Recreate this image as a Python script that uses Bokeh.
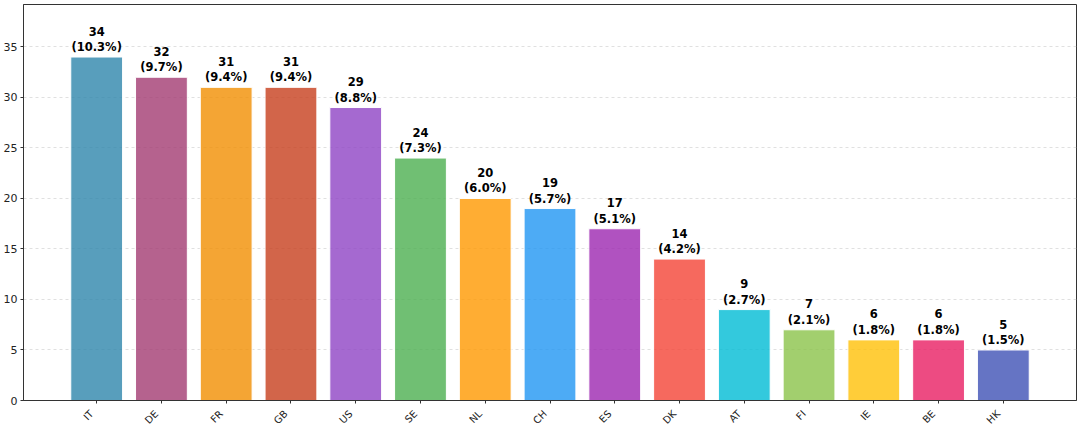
import math
from bokeh.plotting import figure
from bokeh.layouts import column
from bokeh.models import ColumnDataSource, FixedTicker, Range1d, CustomJSTickFormatter
from bokeh.core.properties import value
from bokeh.embed import file_html
from bokeh.resources import INLINE

countries = ["IT", "DE", "FR", "GB", "US", "SE", "NL", "CH", "ES", "DK", "AT", "FI", "IE", "BE", "HK"]
counts = [34, 32, 31, 31, 29, 24, 20, 19, 17, 14, 9, 7, 6, 6, 5]
percents = [10.3, 9.7, 9.4, 9.4, 8.8, 7.3, 6.0, 5.7, 5.1, 4.2, 2.7, 2.1, 1.8, 1.8, 1.5]
colors = ["#2E86AB", "#A23B72", "#F18F01", "#C73E1D", "#8E44C4", "#4CAF50", "#FF9800",
          "#2196F3", "#9C27B0", "#F44336", "#00BCD4", "#8BC34A", "#FFC107", "#E91E63", "#3F51B5"]

xs = list(range(len(countries)))
labels = [f"{c}\n({p:.1f}%)" for c, p in zip(counts, percents)]
src = ColumnDataSource(dict(x=xs, top=counts, color=colors, label=labels,
                            name=countries, one=[1] * len(xs)))

p = figure(width=1080, height=407, output_backend="svg", toolbar_location=None,
           x_range=Range1d(-1.13, 15.13), y_range=Range1d(0, 39.2),
           min_border_left=23, min_border_right=4, min_border_top=4, min_border_bottom=7)

p.vbar(x="x", top="top", width=0.8, source=src, fill_color="color", fill_alpha=0.8,
       line_color="white", line_width=1)
p.text(x="x", y="top", text="label", source=src, text_align="center", text_baseline="bottom",
       y_offset=-3, text_font=value("DejaVu Sans"), text_font_style="bold",
       text_font_size="11.5px", text_color="black", text_line_height=1.1)

p.xaxis.ticker = FixedTicker(ticks=xs)
p.xaxis.formatter = CustomJSTickFormatter(code="return '';")
p.xaxis.major_label_text_font_size = "0px"
p.xaxis.major_label_standoff = 0
p.yaxis.major_label_standoff = 3
p.yaxis.ticker = FixedTicker(ticks=[0, 5, 10, 15, 20, 25, 30, 35])
p.yaxis.major_label_text_font = "DejaVu Sans"
p.yaxis.major_label_text_font_size = "11px"
p.yaxis.major_label_text_color = "#222222"

for ax in (p.xaxis[0], p.yaxis[0]):
    ax.axis_line_color = "#333333"
    ax.major_tick_line_color = "#333333"
    ax.major_tick_out = 3
    ax.major_tick_in = 0
    ax.minor_tick_line_color = None

p.xgrid.grid_line_color = None
p.ygrid.grid_line_color = "#cccccc"
p.ygrid.grid_line_dash = "3 3"
p.ygrid.grid_line_alpha = 0.6
p.outline_line_color = "#333333"
p.outline_line_width = 1
p.background_fill_color = "white"
p.border_fill_color = "white"

# strip below holding the rotated x tick labels
p2 = figure(width=1080, height=19, output_backend="svg", toolbar_location=None,
            x_range=p.x_range, y_range=Range1d(0, 1),
            x_axis_location=None, y_axis_location=None,
            min_border_left=23, min_border_right=4, min_border_top=0, min_border_bottom=0)
p2.text(x="x", y="one", text="name", source=src, angle=math.pi / 4,
        text_align="right", text_baseline="middle", x_offset=-5, y_offset=4.5,
        text_font=value("DejaVu Sans"), text_font_size="10px", text_color="#222222")
p2.xgrid.grid_line_color = None
p2.ygrid.grid_line_color = None
p2.outline_line_color = None
p2.background_fill_color = "white"
p2.border_fill_color = "white"

layout = column(p, p2, spacing=0)
open("out.html", "w").write(file_html(layout, INLINE))
